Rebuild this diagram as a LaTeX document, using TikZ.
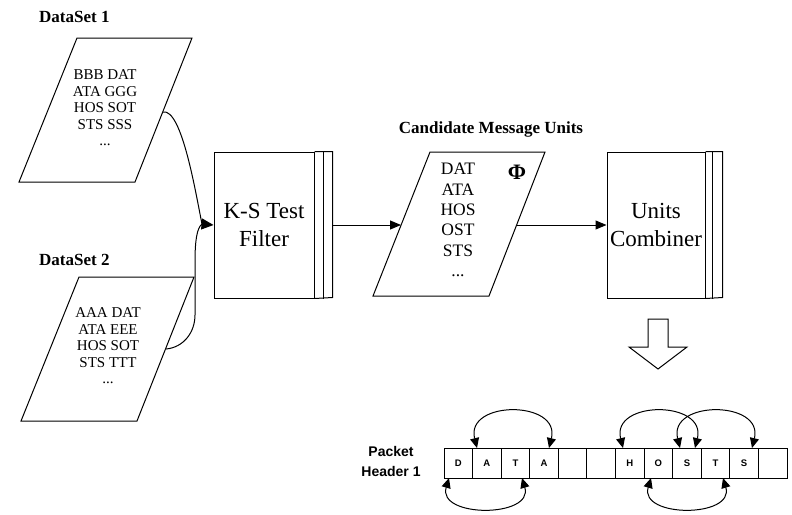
\documentclass[tikz,border=0pt]{standalone}
\usepackage{fontspec}
\setmainfont{Liberation Serif}
\newfontfamily\arialfont{Liberation Sans}
\usetikzlibrary{arrows.meta,calc}
\tikzset{
 ln/.style={line width=1pt},
 proc/.style={draw, line width=1pt, minimum height=146pt, inner sep=0pt, align=center, font=\fontsize{23}{28}\selectfont},
 dstxt/.style={align=center, inner sep=0pt, font=\fontsize{15}{16.5}\selectfont},
 cmtxt/.style={align=center, inner sep=0pt, font=\fontsize{17.5}{20.4}\selectfont},
 lbl/.style={inner sep=0pt, font=\bfseries\fontsize{17}{20}\selectfont},
 plbl/.style={inner sep=0pt, align=center, font=\arialfont\bfseries\fontsize{14}{20}\selectfont},
 cell/.style={draw, line width=0.9pt, minimum width=28.58pt, minimum height=30pt, inner sep=0pt, font=\arialfont\bfseries\fontsize{9.5}{9.5}\selectfont}
}
\begin{document}
\begin{tikzpicture}[x=1pt,y=-1pt]
\useasboundingbox (0,0) rectangle (792,514);

% labels
\node[lbl, anchor=base west] (l1) at (39,22.7) {DataSet 1};
\node[lbl, anchor=base west] (l2) at (39,265) {DataSet 2};
\node[lbl, anchor=base] (l3) at (491,133) {Candidate Message Units};

% dataset 1
\draw[ln] (77,38) -- (192,38) -- (135,182) -- (19,182) -- cycle;
\node[dstxt] (d1) at (105,108) {BBB DAT\\ATA GGG\\HOS SOT\\STS SSS\\...};
\coordinate (p1out) at (163,112);

% dataset 2
\draw[ln] (79,277) -- (194,277) -- (137,421) -- (21,421) -- cycle;
\node[dstxt] (d2) at (108,346) {AAA DAT\\ATA EEE\\HOS SOT\\STS TTT\\...};
\coordinate (p2out) at (166,349);

% K-S filter
\node[proc, minimum width=100pt] (ks) at (264,225) {K-S Test\\Filter};
\draw[ln] (ks.north east) -- ++(18,0) -- ++(0,146) -- (ks.south east);
\draw[ln] ($(ks.north east)+(9,0)$) -- ($(ks.south east)+(9,0)$);
\coordinate (ksout) at ($(ks.east)+(18,0)$);
\coordinate (merge) at (202,224);

% merge curves
\draw[line width=1pt] (p1out) .. controls (182,108) and (196,195) .. (merge);
\draw[line width=1pt] (p2out) to[out=5,in=-90] (195,315) -- (195,262) .. controls (195,240) and (197,228) .. (merge);
\draw[line width=1pt, -{Triangle[length=12pt,width=11pt]}] (merge) -- (ks.west);

% candidate units
\draw[ln] (430,152) -- (545,152) -- (489,296) -- (373,296) -- cycle;
\node[cmtxt] (cm) at (458,220) {DAT\\ATA\\HOS\\OST\\STS\\...};
\node[inner sep=0pt, font=\bfseries\fontsize{22}{22}\selectfont] (phi) at (517,172) {Φ};
\coordinate (p3in) at (401,225);
\coordinate (p3out) at (517,225);
\draw[line width=1pt, -{Triangle[length=11pt,width=9pt]}] (ksout) -- (p3in);

% units combiner
\node[proc, minimum width=98pt] (uc) at (656,225) {Units\\Combiner};
\draw[ln] (uc.north east) -- ++(17,0) -- ++(0,146) -- (uc.south east);
\draw[ln] ($(uc.north east)+(7,0)$) -- ($(uc.south east)+(7,0)$);
\draw[line width=1pt, -{Triangle[length=11pt,width=9pt]}] (p3out) -- (uc.west);

% block arrow
\draw[line width=1pt, fill=white] (648,319) -- (668,319) -- (668,347) -- (687,347) -- (658,369) -- (629,347) -- (648,347) -- cycle;

% packet header
\node[plbl] (ph) at (391,461) {Packet\\Header 1};
\foreach \i/\t in {0/D,1/A,2/T,3/A,4/,5/,6/H,7/O,8/S,9/T,10/S,11/}
  \node[cell] (c\i) at ({458.29+28.58*\i},463) {\t};

\coordinate (a1s) at (477,448); \coordinate (a1e) at (549,448);
\coordinate (a2s) at (623,448); \coordinate (a2e) at (695,448);
\coordinate (a3s) at (680,448); \coordinate (a3e) at (752,448);
\coordinate (b1s) at (449,478); \coordinate (b1e) at (522,478);
\coordinate (b2s) at (651,478); \coordinate (b2e) at (723,478);

\draw[line width=1pt, {Triangle[length=10pt,width=9pt]}-{Triangle[length=10pt,width=9pt]}] (a1s) .. controls (465,400) and (561,400) .. (a1e);
\draw[line width=1pt, {Triangle[length=10pt,width=9pt]}-{Triangle[length=10pt,width=9pt]}] (a2s) .. controls (611,400) and (707,400) .. (a2e);
\draw[line width=1pt, {Triangle[length=10pt,width=9pt]}-{Triangle[length=10pt,width=9pt]}] (a3s) .. controls (668,400) and (764,400) .. (a3e);
\draw[line width=1pt, {Triangle[length=10pt,width=9pt]}-{Triangle[length=10pt,width=9pt]}] (b1s) .. controls (437,518) and (534,518) .. (b1e);
\draw[line width=1pt, {Triangle[length=10pt,width=9pt]}-{Triangle[length=10pt,width=9pt]}] (b2s) .. controls (639,518) and (735,518) .. (b2e);
\end{tikzpicture}
\end{document}
